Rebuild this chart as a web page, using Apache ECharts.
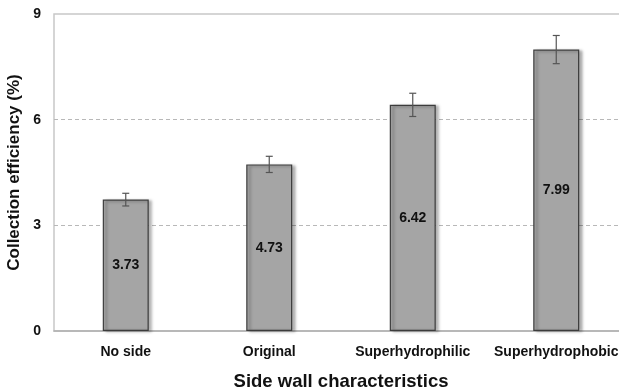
<!DOCTYPE html>
<html><head><meta charset="utf-8">
<script src="https://cdn.jsdelivr.net/npm/echarts@6/dist/echarts.min.js"></script>
<style>html,body{margin:0;padding:0;background:#fff}#c{width:619px;height:390px}</style>
</head><body><div id="c"></div>
<script>
var categories = ['No side', 'Original', 'Superhydrophilic', 'Superhydrophobic'];
var efficiency = [3.73, 4.73, 6.42, 7.99];
var errors = [0.18, 0.23, 0.33, 0.40];
var yTicks = [0, 3, 6, 9];

var chart = echarts.init(document.getElementById('c'));
var errData = categories.map(function (c, i) { return [i, efficiency[i] - errors[i], efficiency[i] + errors[i]]; });
var FF = 'Liberation Sans, Arial, sans-serif';
chart.setOption({
  animation: false,
  grid: { left: 54, top: 14, width: 574, height: 317, containLabel: false, outerBoundsMode: 'none',
    show: true, borderColor: '#c8c8c8', borderWidth: 1.5 },
  xAxis: {
    type: 'category', data: categories,
    axisLine: { lineStyle: { color: '#b0b0b0', width: 1.5 } },
    axisTick: { show: false },
    axisLabel: { color: '#111', fontFamily: FF, fontWeight: 'bold', fontSize: 14, margin: 14, interval: 0 },
    name: 'Side wall characteristics', nameLocation: 'middle', nameGap: 41,
    nameTextStyle: { color: '#111', fontFamily: FF, fontWeight: 'bold', fontSize: 18.5 }
  },
  yAxis: {
    type: 'value', min: 0, max: 9, interval: 3,
    axisLine: { show: false },
    axisTick: { show: false },
    splitLine: { showMinLine: false, showMaxLine: false, lineStyle: { color: '#b8b8b8', type: [4, 3], width: 1 } },
    axisLabel: { color: '#111', fontFamily: FF, fontWeight: 'bold', fontSize: 14, margin: 13,
      formatter: function (v) { return yTicks.indexOf(v) >= 0 ? String(v) : ''; } },
    name: 'Collection efficiency (%)', nameLocation: 'middle', nameGap: 20, nameRotate: 90,
    nameTextStyle: { color: '#111', fontFamily: FF, fontWeight: 'bold', fontSize: 17 }
  },
  series: [
    {
      type: 'bar', data: efficiency, barWidth: 46,
      itemStyle: { color: '#a5a5a5', borderColor: '#3c3c3c', borderWidth: 1.2,
        shadowColor: 'rgba(0,0,0,0.35)', shadowBlur: 3, shadowOffsetX: 3, shadowOffsetY: 1 },
      label: { show: true, position: 'inside', color: '#111', fontFamily: FF, fontWeight: 'bold', fontSize: 14,
        formatter: function (p) { return p.value.toFixed(2); } },
      z: 2
    },
    {
      type: 'custom', data: errData, z: 5,
      renderItem: function (params, api) {
        var x = api.value(0);
        var lo = api.coord([x, api.value(1)]);
        var hi = api.coord([x, api.value(2)]);
        var hw = 3.5;
        var st = { stroke: '#555', lineWidth: 1.2 };
        return { type: 'group', children: [
          { type: 'line', shape: { x1: lo[0], y1: lo[1], x2: hi[0], y2: hi[1] }, style: st },
          { type: 'line', shape: { x1: lo[0] - hw, y1: lo[1], x2: lo[0] + hw, y2: lo[1] }, style: st },
          { type: 'line', shape: { x1: hi[0] - hw, y1: hi[1], x2: hi[0] + hw, y2: hi[1] }, style: st }
        ] };
      }
    }
  ]
});
</script></body></html>
